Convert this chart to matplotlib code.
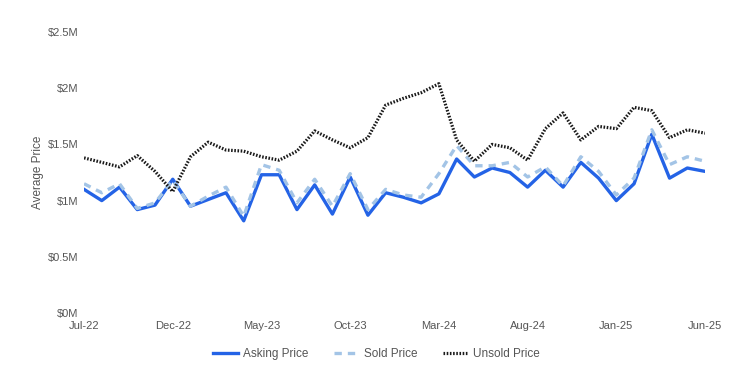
import matplotlib
matplotlib.use('Agg')
import matplotlib.pyplot as plt
from matplotlib.ticker import FuncFormatter

plt.rcParams['font.family'] = ['Liberation Sans', 'DejaVu Sans']

# ------------------------------------------------------------
# data (monthly, Jul-22 .. Jun-25), in $M
# ------------------------------------------------------------
months = ['Jul-22', 'Aug-22', 'Sep-22', 'Oct-22', 'Nov-22', 'Dec-22',
          'Jan-23', 'Feb-23', 'Mar-23', 'Apr-23', 'May-23', 'Jun-23',
          'Jul-23', 'Aug-23', 'Sep-23', 'Oct-23', 'Nov-23', 'Dec-23',
          'Jan-24', 'Feb-24', 'Mar-24', 'Apr-24', 'May-24', 'Jun-24',
          'Jul-24', 'Aug-24', 'Sep-24', 'Oct-24', 'Nov-24', 'Dec-24',
          'Jan-25', 'Feb-25', 'Mar-25', 'Apr-25', 'May-25', 'Jun-25']

asking = [1.10, 1.00, 1.12, 0.92, 0.96, 1.19, 0.95, 1.01, 1.07, 0.82,
          1.23, 1.23, 0.92, 1.14, 0.88, 1.21, 0.87, 1.07, 1.03, 0.98,
          1.06, 1.37, 1.21, 1.29, 1.25, 1.12, 1.27, 1.12, 1.34, 1.20,
          1.00, 1.15, 1.59, 1.20, 1.29, 1.26]

sold = [1.15, 1.07, 1.15, 0.93, 0.98, 1.18, 0.95, 1.04, 1.12, 0.86,
        1.32, 1.27, 0.98, 1.19, 0.95, 1.24, 0.92, 1.10, 1.05, 1.03,
        1.24, 1.49, 1.31, 1.31, 1.34, 1.21, 1.30, 1.13, 1.39, 1.26,
        1.05, 1.20, 1.63, 1.32, 1.39, 1.35]

unsold = [1.38, 1.34, 1.30, 1.40, 1.26, 1.08, 1.39, 1.52, 1.45, 1.44,
          1.39, 1.36, 1.44, 1.62, 1.54, 1.47, 1.56, 1.85, 1.91, 1.96,
          2.04, 1.54, 1.35, 1.50, 1.47, 1.36, 1.64, 1.78, 1.54, 1.66,
          1.64, 1.83, 1.80, 1.56, 1.63, 1.60]

tick_step = 5
y_ticks = [0, 0.5, 1, 1.5, 2, 2.5]

# ------------------------------------------------------------
# figure
# ------------------------------------------------------------
fig = plt.figure(figsize=(7.53, 3.88), dpi=100)
ax = fig.add_axes([0.1116, 0.1933, 0.8247, 0.7242])

x = list(range(len(months)))

ax.plot(x, asking, color='#2463e6', linewidth=2.4, label='Asking Price')
ax.plot(x, sold, color='#a3c4e6', linewidth=2.4, linestyle=(0, (2.2, 1.8)),
        label='Sold Price')
ax.plot(x, unsold, color='#1a1a1a', linewidth=2.3, linestyle=(0, (0.5, 0.5)),
        label='Unsold Price')

ax.set_xlim(0, len(months) - 1)
ax.set_ylim(0, 2.5)
ax.set_xticks(x[::tick_step])
ax.set_xticklabels(months[::tick_step])
ax.set_yticks(y_ticks)
ax.yaxis.set_major_formatter(FuncFormatter(lambda v, p: f'${v:g}M'))

ax.tick_params(length=0, labelsize=8, colors='#555555', pad=6)
ax.tick_params(axis='y', pad=4)
for s in ax.spines.values():
    s.set_visible(False)

ax.set_ylabel('Average Price', fontsize=8.5, color='#555555', labelpad=3)

fig.legend(loc='lower center', bbox_to_anchor=(0.5, 0.045), ncol=3,
           frameon=False, fontsize=8.5, labelcolor='#555555',
           handlelength=2.1, handletextpad=0.4, columnspacing=2.2)

fig.patch.set_facecolor('white')
fig.savefig('out.png', dpi=100)
